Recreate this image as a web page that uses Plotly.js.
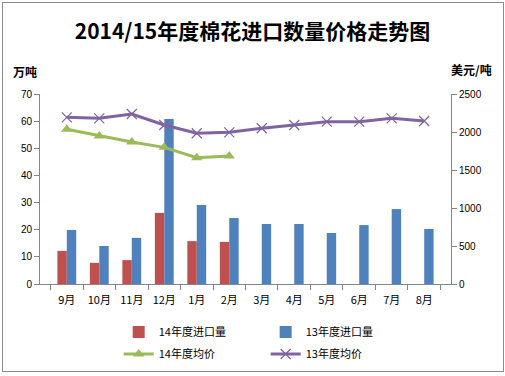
<!DOCTYPE html>
<html><head><meta charset="utf-8">
<script src="https://cdn.plot.ly/plotly-3.0.1.min.js"></script>
<style>html,body{margin:0;padding:0;background:#fff}#wrap{position:relative;width:505px;height:376px}
#chart{position:absolute;left:0;top:0;width:505px;height:376px}
#frame{position:absolute;left:2px;top:2px;width:500px;height:368px;border:1px solid #8c8c8c;pointer-events:none}</style>
</head><body><div id="wrap"><div id="chart"></div><div id="frame"></div></div>
<script>
const months = ['9月','10月','11月','12月','1月','2月','3月','4月','5月','6月','7月','8月'];
const import14 = [12.2, 7.8, 8.8, 26.2, 15.8, 15.5];
const import13 = [19.9, 14.0, 17.0, 60.8, 29.1, 24.3, 22.1, 22.1, 18.8, 21.7, 27.6, 20.3];
const price14 = [2035, 1947, 1868, 1798, 1662, 1684];
const price13 = [2193, 2180, 2237, 2092, 1983, 1996, 2049, 2092, 2136, 2136, 2180, 2145];
const names = ['14年度进口量','13年度进口量','14年度均价','13年度均价'];

const cjk = '"Noto Sans CJK SC", "DejaVu Sans", sans-serif';
const num = '"Liberation Sans", sans-serif';
const data = [
  {type:'bar', x:months.slice(0,import14.length), y:import14, name:names[0], marker:{color:'#C0504D'}, legend:'legend'},
  {type:'bar', x:months, y:import13, name:names[1], marker:{color:'#4F81BD'}, legend:'legend'},
  {type:'scatter', mode:'lines+markers', x:months.slice(0,price14.length), y:price14, name:names[2], yaxis:'y2',
   line:{color:'#9BBB59', width:3}, marker:{symbol:'triangle-up', size:10, color:'#9BBB59'}, legend:'legend2'},
  {type:'scatter', mode:'lines+markers', x:months, y:price13, name:names[3], yaxis:'y2',
   line:{color:'#8064A2', width:3}, marker:{symbol:'x-thin-open', size:10, line:{color:'#8064A2', width:1.2}}, legend:'legend2'}
];
const legendCommon = {orientation:'h', xref:'container', yref:'container', x:0.235, xanchor:'left', yanchor:'middle',
  entrywidth:102, font:{family:cjk, size:11}, traceorder:'normal', bgcolor:'rgba(0,0,0,0)'};
const layout = {
  width:505, height:376, margin:{l:40, r:54, t:94, b:92},
  paper_bgcolor:'#fff', plot_bgcolor:'#fff',
  font:{family:cjk, size:11, color:'#000'},
  title:{text:'<b>2014/15年度棉花进口数量价格走势图</b>', font:{family:cjk, size:21, color:'#000'}, x:0.5, xanchor:'center', y:0.915, yanchor:'middle'},
  barmode:'group', bargap:0.42, bargroupgap:0,
  showlegend:true,
  xaxis:{type:'category', categoryorder:'array', categoryarray:months, showline:true, linecolor:'#868686', linewidth:1,
    ticks:'outside', ticklen:5, tickcolor:'#868686', tickson:'boundaries', showgrid:false, zeroline:false,
    ticklabelstandoff:6, tickfont:{family:cjk, size:11}},
  yaxis:{range:[0,70], dtick:10, showline:true, linecolor:'#868686', ticks:'outside', ticklen:5, tickcolor:'#868686',
    showgrid:false, zeroline:false, tickfont:{family:num, size:10}},
  yaxis2:{range:[0,2500], dtick:500, overlaying:'y', side:'right', showline:true, linecolor:'#868686', ticks:'outside', ticklen:5,
    tickcolor:'#868686', showgrid:false, zeroline:false, tickfont:{family:num, size:10}},
  legend:Object.assign({}, legendCommon, {y:1 - 332/376}),
  legend2:Object.assign({}, legendCommon, {y:1 - 354/376}),
  annotations:[
    {text:'<b>万吨</b>', xref:'paper', yref:'paper', x:-0.07, y:1.12, xanchor:'left', yanchor:'middle', showarrow:false, font:{family:cjk, size:12}},
    {text:'<b>美元/吨</b>', xref:'paper', yref:'paper', x:0.995, y:1.13, xanchor:'left', yanchor:'middle', showarrow:false, font:{family:cjk, size:12}}
  ]
};
Plotly.newPlot('chart', data, layout, {displayModeBar:false, staticPlot:true});
</script></body></html>
